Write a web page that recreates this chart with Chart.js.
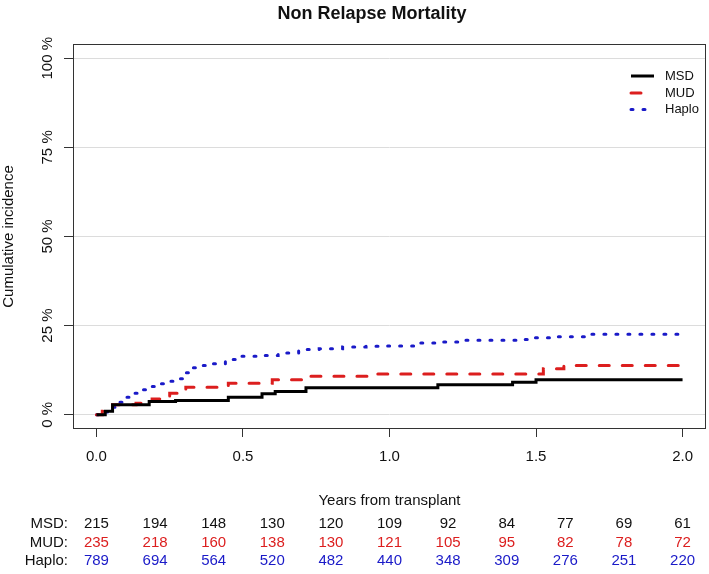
<!DOCTYPE html>
<html>
<head>
<meta charset="utf-8">
<script src="https://cdn.jsdelivr.net/npm/chart.js@4/dist/chart.umd.min.js"></script>
<style>
  html, body { margin: 0; padding: 0; background: #fff; }
  #wrap { width: 709px; height: 574px; }
</style>
</head>
<body>
<div id="wrap"><canvas id="nrmChart" width="709" height="574"></canvas></div>
<script>
// curvas de incidencia acumulada (años, %)
const msdTimes = [0, 0.03, 0.055, 0.18, 0.27, 0.45, 0.565, 0.61, 0.715, 1.165, 1.42, 1.50, 2.0];
const msdCif   = [0, 1.0, 2.8, 3.7, 4.0, 4.9, 5.9, 6.5, 7.6, 8.4, 9.1, 9.8, 9.8];

const mudTimes = [0, 0.02, 0.055, 0.135, 0.19, 0.25, 0.305, 0.45, 0.6, 0.725, 0.95, 1.525, 1.595, 2.0];
const mudCif   = [0, 1.0, 2.8, 3.2, 4.4, 6.0, 7.7, 8.8, 9.8, 10.8, 11.4, 12.9, 13.8, 13.8];

const hapTimes = [0, 0.02, 0.044, 0.07, 0.1, 0.13, 0.157, 0.19, 0.215, 0.245, 0.27, 0.295, 0.317, 0.35, 0.385,
                  0.44, 0.475, 0.555, 0.62, 0.69, 0.76, 0.84, 0.92, 0.99, 1.1, 1.18, 1.247, 1.45, 1.486, 1.555, 1.67, 2.0];
const hapCif   = [0, 0.8, 2.1, 3.5, 4.9, 6.0, 7.0, 7.9, 8.7, 9.4, 10.1, 11.8, 13.2, 13.8, 14.3,
                  15.5, 16.4, 16.6, 17.3, 18.3, 18.5, 19.0, 19.2, 19.3, 20.1, 20.4, 20.9, 21.1, 21.6, 21.9, 22.6, 22.6];

// tabla de pacientes en riesgo
const groups    = ['MSD', 'MUD', 'Haplo'];
const riskTimes = [0, 0.2, 0.4, 0.6, 0.8, 1.0, 1.2, 1.4, 1.6, 1.8, 2.0];
const msdRisk   = [215, 194, 148, 130, 120, 109, 92, 84, 77, 69, 61];
const mudRisk   = [235, 218, 160, 138, 130, 121, 105, 95, 82, 78, 72];
const hapRisk   = [789, 694, 564, 520, 482, 440, 348, 309, 276, 251, 220];

const xTicks = [0, 0.5, 1.0, 1.5, 2.0];
const yTicks = [0, 25, 50, 75, 100];

const FONT = "'Liberation Sans', Arial, sans-serif";
const colors = ['#000000', '#dc1e1e', '#1a1ac8'];

const pts = (t, v) => t.map((x, i) => ({ x: x, y: v[i] }));

// dibuja marco, etiquetas, leyenda y tabla
const decorPlugin = {
  id: 'decor',
  afterDraw(chart) {
    const c = chart.ctx;
    const a = chart.chartArea;
    const xs = chart.scales.x, ys = chart.scales.y;
    c.save();
    c.strokeStyle = '#333';
    c.lineWidth = 1;
    c.strokeRect(a.left + 0.5, a.top + 0.5, a.right - a.left - 1, a.bottom - a.top - 1);

    c.fillStyle = '#111';
    c.font = 'bold 18px ' + FONT;
    c.textAlign = 'center';
    c.textBaseline = 'middle';
    c.fillText('Non Relapse Mortality', 372, 14);

    c.font = '15px ' + FONT;
    xTicks.forEach(v => c.fillText(v.toFixed(1), xs.getPixelForValue(v), 457));
    c.fillText('Years from transplant', (a.left + a.right) / 2, 501);

    yTicks.forEach(v => {
      c.save();
      c.translate(47.5, ys.getPixelForValue(v));
      c.rotate(-Math.PI / 2);
      c.fillText(v + ' %', 0, 0);
      c.restore();
    });
    c.save();
    c.translate(9, (a.top + a.bottom) / 2);
    c.rotate(-Math.PI / 2);
    c.fillText('Cumulative incidence', 0, 0);
    c.restore();

    // tabla en riesgo
    const rows = [msdRisk, mudRisk, hapRisk];
    const rowY = [524, 542.5, 561];
    rows.forEach((r, k) => {
      c.textAlign = 'right';
      c.fillStyle = '#111';
      c.fillText(groups[k] + ':', 68, rowY[k]);
      c.textAlign = 'center';
      c.fillStyle = k === 0 ? '#111' : colors[k];
      r.forEach((n, i) => c.fillText(String(n), xs.getPixelForValue(riskTimes[i]), rowY[k]));
    });

    // leyenda
    const legY = [76, 93, 109.5];
    c.font = '13px ' + FONT;
    c.textAlign = 'left';
    chart.data.datasets.forEach((ds, k) => {
      c.strokeStyle = ds.borderColor;
      c.lineWidth = ds.borderWidth;
      c.lineCap = ds.borderCapStyle;
      c.setLineDash(ds.borderDash);
      c.beginPath();
      c.moveTo(631, legY[k]);
      c.lineTo(654, legY[k]);
      c.stroke();
      c.setLineDash([]);
      c.fillStyle = '#111';
      c.fillText(ds.label, 665, legY[k]);
    });
    c.restore();
  }
};

const ctx = document.getElementById('nrmChart').getContext('2d');
new Chart(ctx, {
  type: 'line',
  data: {
    datasets: [
      { label: 'MSD', data: pts(msdTimes, msdCif), borderColor: colors[0], borderWidth: 3,
        borderDash: [], borderCapStyle: 'butt', stepped: true, pointRadius: 0 },
      { label: 'MUD', data: pts(mudTimes, mudCif), borderColor: colors[1], borderWidth: 3,
        borderDash: [10, 13], borderCapStyle: 'round', stepped: true, pointRadius: 0 },
      { label: 'Haplo', data: pts(hapTimes, hapCif), borderColor: colors[2], borderWidth: 3,
        borderDash: [2, 10], borderCapStyle: 'round', stepped: true, pointRadius: 0 }
    ]
  },
  options: {
    responsive: false,
    animation: false,
    layout: { padding: { left: 0, right: 3, top: 44, bottom: 0 } },
    plugins: {
      legend: { display: false },
      title: { display: false },
      tooltip: { enabled: false }
    },
    scales: {
      x: {
        type: 'linear',
        min: -0.08,
        max: 2.08,
        afterBuildTicks: s => { s.ticks = xTicks.map(v => ({ value: v })); },
        afterFit: s => { s.height = 145; },
        ticks: { display: false },
        border: { display: false },
        grid: { color: 'rgba(0,0,0,0)', tickColor: '#333', tickLength: 8, drawTicks: true }
      },
      y: {
        min: -4,
        max: 104,
        afterBuildTicks: s => { s.ticks = yTicks.map(v => ({ value: v })); },
        afterFit: s => { s.width = 73; },
        ticks: { display: false },
        border: { display: false },
        grid: { color: '#dcdcdc', tickColor: '#333', tickLength: 9, drawTicks: true }
      }
    }
  },
  plugins: [decorPlugin]
});
</script>
</body>
</html>
